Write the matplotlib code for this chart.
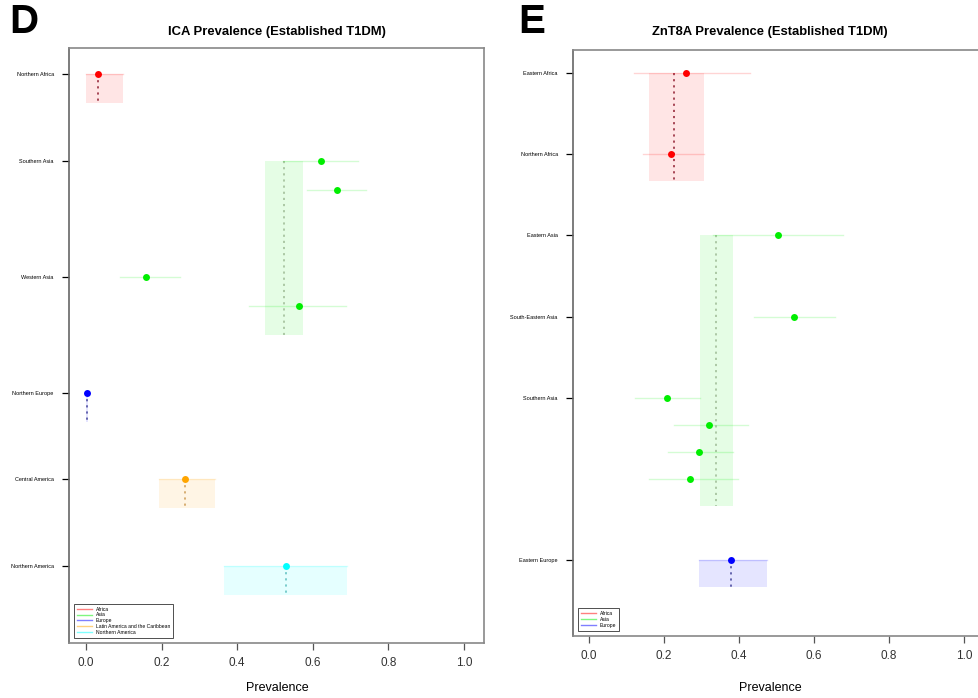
import matplotlib
matplotlib.use("Agg")
import matplotlib.pyplot as plt
from matplotlib.lines import Line2D

plt.rcParams['font.family'] = ['Liberation Sans', 'DejaVu Sans']

# ICA prevalence (panel D)
ica_sub = ["Northern Africa", "Southern Asia", "Southern Asia", "Western Asia", "Western Asia",
           "Northern Europe", "Central America", "Northern America"]
ica_region = ["Africa", "Asia", "Asia", "Asia", "Asia", "Europe",
              "Latin America and the Caribbean", "Northern America"]
ica_est = [0.032, 0.622, 0.664, 0.159, 0.563, 0.003, 0.262, 0.529]
ica_lo = [0.0, 0.52, 0.585, 0.09, 0.43, 0.0, 0.193, 0.365]
ica_hi = [0.098, 0.72, 0.741, 0.249, 0.688, 0.008, 0.341, 0.69]
ica_pool_region = ["Africa", "Asia", "Europe", "Latin America and the Caribbean", "Northern America"]
ica_pool_est = [0.032, 0.524, 0.003, 0.262, 0.529]
ica_pool_lo = [0.0, 0.474, 0.0, 0.193, 0.365]
ica_pool_hi = [0.098, 0.574, 0.006, 0.341, 0.69]

# ZnT8A prevalence (panel E)
znt_sub = ["Eastern Africa", "Northern Africa", "Eastern Asia", "South-Eastern Asia",
           "Southern Asia", "Southern Asia", "Southern Asia", "Southern Asia", "Eastern Europe"]
znt_region = ["Africa", "Africa", "Asia", "Asia", "Asia", "Asia", "Asia", "Asia", "Europe"]
znt_est = [0.259, 0.218, 0.504, 0.547, 0.208, 0.32, 0.293, 0.269, 0.379]
znt_lo = [0.12, 0.144, 0.33, 0.44, 0.123, 0.227, 0.211, 0.16, 0.293]
znt_hi = [0.43, 0.305, 0.677, 0.656, 0.296, 0.424, 0.384, 0.397, 0.475]
znt_pool_region = ["Africa", "Asia", "Europe"]
znt_pool_est = [0.227, 0.339, 0.379]
znt_pool_lo = [0.16, 0.296, 0.293]
znt_pool_hi = [0.305, 0.384, 0.475]

colors = {"Africa": "#ff0000", "Asia": "#00ee00", "Europe": "#0000ff",
          "Latin America and the Caribbean": "#ffa500", "Northern America": "#00ffff"}
dot_colors = {"Africa": "#a03a4a", "Asia": "#a8c4a0", "Europe": "#5a5aa8",
              "Latin America and the Caribbean": "#d4a868", "Northern America": "#70c8c8"}


def row_positions(sub):
    # new subregion -> jump 3 rows, same subregion -> next row
    rows = []
    r = 0
    for i, s in enumerate(sub):
        if i > 0:
            r += 1 if s == sub[i - 1] else 3
        rows.append(r)
    return rows


def draw_panel(ax, sub, region, est, lo, hi, p_reg, p_est, p_lo, p_hi, ylim):
    rows = row_positions(sub)
    # pooled boxes per region
    for reg, pe, pl, ph in zip(p_reg, p_est, p_lo, p_hi):
        rr = [r for r, g in zip(rows, region) if g == reg]
        top, bot = min(rr), max(rr) + 1
        ax.fill_between([pl, ph], top, bot, color=colors[reg], alpha=0.1, lw=0)
        ax.plot([pe, pe], [top, bot], color=dot_colors[reg], ls=(0, (1.2, 2.2)), lw=1.3)
    # study estimates
    for r, g, e, l, h in zip(rows, region, est, lo, hi):
        ax.plot([l, h], [r, r], color=colors[g], alpha=0.17, lw=1)
        ax.plot(e, r, 'o', color=colors[g], ms=5, mec='none')

    # y ticks at first study of each subregion
    tick_rows, tick_lab, tick_col = [], [], []
    for i, (r, s) in enumerate(zip(rows, sub)):
        if i == 0 or s != sub[i - 1]:
            tick_rows.append(r)
            tick_lab.append(s)
            tick_col.append(colors[region[i]])
    ax.set_yticks(tick_rows)
    ax.set_yticklabels(tick_lab, fontsize=4)
    for tk, c in zip(ax.yaxis.get_major_ticks(), tick_col):
        tk.tick1line.set_color(c)
    ax.tick_params(axis='y', length=5, width=0.9, pad=6)

    ax.set_xticks([0.0, 0.2, 0.4, 0.6, 0.8, 1.0])
    ax.set_xticklabels(["0.0", "0.2", "0.4", "0.6", "0.8", "1.0"], fontsize=8.5, color="#333333")
    ax.tick_params(axis='x', length=5, width=0.9, color="#555555", pad=5)
    ax.set_ylim(ylim)
    for sp in ax.spines.values():
        sp.set_color("#888888")
        sp.set_linewidth(1.2)
    ax.spines['left'].set_color("#666666")

    handles = [Line2D([0], [0], color=colors[g], alpha=0.5, lw=1) for g in p_reg]
    leg = ax.legend(handles, p_reg, loc='lower left', fontsize=3.6, frameon=True,
                    fancybox=False, edgecolor='black', handlelength=3, borderpad=0.6,
                    labelspacing=0.15, bbox_to_anchor=(0.005, 0.005))
    leg.get_frame().set_linewidth(0.6)


fig = plt.figure(figsize=(9.79, 6.98), dpi=100)
W, H = 979, 698

ax1 = fig.add_axes([69 / W, 1 - 643 / H, (484 - 69) / W, (643 - 48) / H])
draw_panel(ax1, ica_sub, ica_region, ica_est, ica_lo, ica_hi,
           ica_pool_region, ica_pool_est, ica_pool_lo, ica_pool_hi, (19.65, -0.9))
ax1.set_xlim(-0.045, 1.053)

ax2 = fig.add_axes([573 / W, 1 - 636 / H, (990 - 573) / W, (636 - 50) / H])
draw_panel(ax2, znt_sub, znt_region, znt_est, znt_lo, znt_hi,
           znt_pool_region, znt_pool_est, znt_pool_lo, znt_pool_hi, (20.8, -0.85))
ax2.set_xlim(-0.043, 1.069)

fig.text(277 / W, 1 - 32 / H, "ICA Prevalence (Established T1DM)", ha='center', va='center',
         fontsize=9.4, fontweight='bold')
fig.text(770 / W, 1 - 32 / H, "ZnT8A Prevalence (Established T1DM)", ha='center', va='center',
         fontsize=9.4, fontweight='bold')
fig.text(277 / W, 1 - 688 / H, "Prevalence", ha='center', va='center', fontsize=9)
fig.text(770 / W, 1 - 688 / H, "Prevalence", ha='center', va='center', fontsize=9)
fig.text(9 / W, 1 - 22 / H, "D", ha='left', va='center', fontsize=29, fontweight='bold')
fig.text(518 / W, 1 - 22 / H, "E", ha='left', va='center', fontsize=29, fontweight='bold')

fig.savefig("out.png", dpi=100)
